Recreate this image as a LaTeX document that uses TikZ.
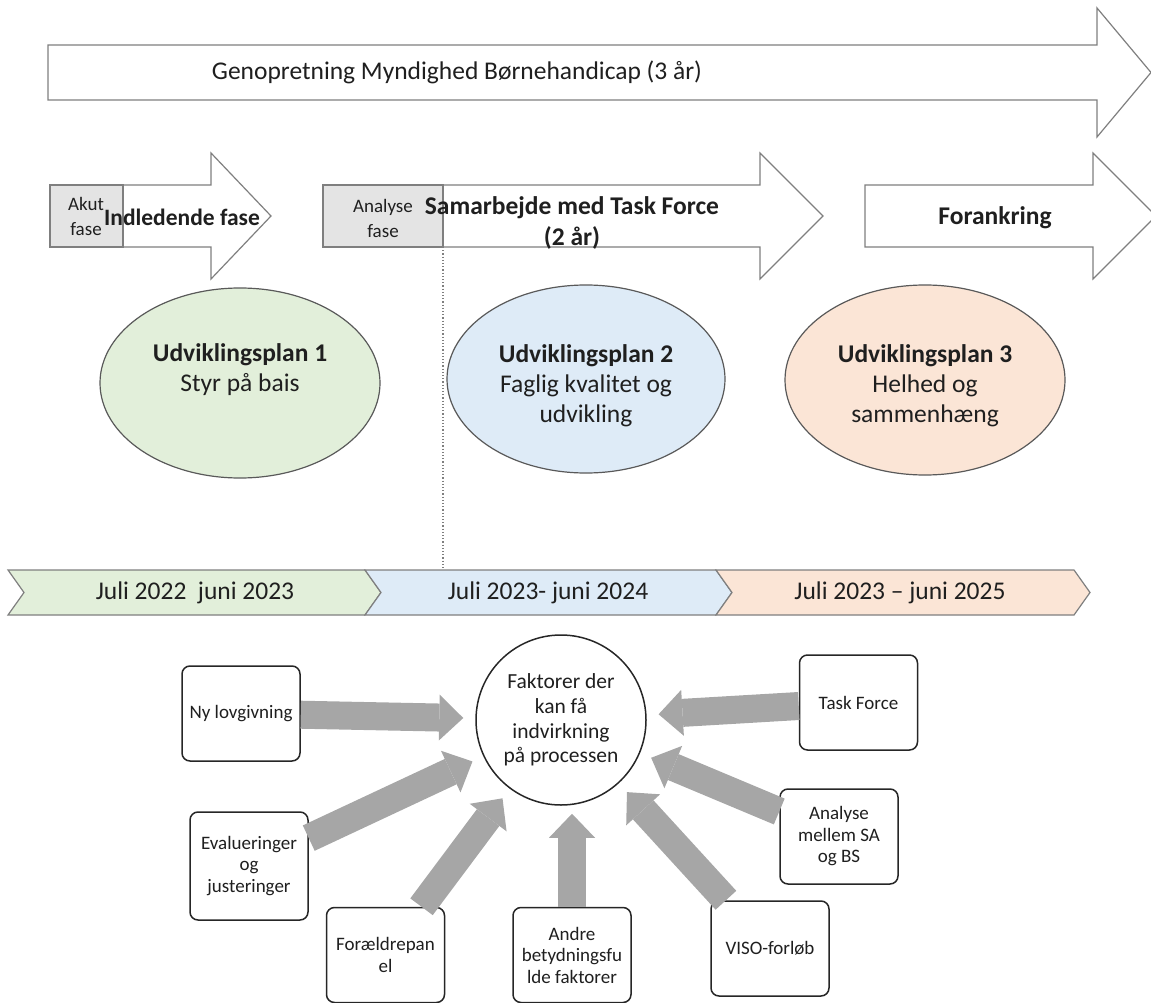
\documentclass[tikz,border=0pt]{standalone}
\usepackage{fontspec}
\setmainfont{Carlito}
\usetikzlibrary{arrows.meta}
\definecolor{arrowgray}{HTML}{A6A6A6}
\definecolor{outl}{HTML}{7F7F7F}
\definecolor{phasegray}{HTML}{E4E4E4}
\definecolor{pgreen}{HTML}{E2EFDA}
\definecolor{pblue}{HTML}{DEEBF7}
\definecolor{porange}{HTML}{FBE5D6}
\definecolor{txt}{HTML}{1F1F1F}
\tikzset{
  bigshape/.style={draw=outl, line width=1.2pt, fill=white},
  phasebox/.style={draw=outl, line width=1.2pt, fill=phasegray},
  lbl/.style={text=txt, font=\fontsize{25.5}{30}\selectfont, align=center, inner sep=0pt},
  boldlbl/.style={text=txt, font=\bfseries\fontsize{25.5}{31}\selectfont, align=center, inner sep=0pt},
  smalllbl/.style={text=txt, font=\fontsize{19}{25}\selectfont, align=center, inner sep=0pt},
  plan/.style={ellipse, draw=black!65, line width=1.2pt},
  planlbl/.style={text=txt, font=\fontsize{25.5}{30}\selectfont, align=center, inner sep=0pt},
  chev/.style={draw=outl, line width=1.2pt},
  factor/.style={draw=black!85, line width=1.5pt, rounded corners=8pt, fill=white, text=txt,
    font=\fontsize{19}{21.5}\selectfont, align=center, minimum width=118pt, minimum height=95pt, inner sep=2pt},
  influence/.style={line width=28pt, draw=arrowgray,
    -{Triangle[width=46pt,length=24pt,line width=0pt]}, shorten >=12pt},
}
\begin{document}
\begin{tikzpicture}[x=1pt,y=-1pt]
\useasboundingbox (0,0) rectangle (1151,1003);
\clip (0,0) rectangle (1151,1003);
\usetikzlibrary{shapes.geometric}

% big arrow
\draw[bigshape] (48,45) -- (1097,45) -- (1097,8) -- (1151,72.5) -- (1097,137) -- (1097,100) -- (48,100) -- cycle;
\node[lbl] (title) at (457,72) {Genopretning Myndighed Børnehandicap (3 år)};

% phase arrows
\draw[bigshape] (50,185) -- (211,185) -- (211,153) -- (271,216) -- (211,279) -- (211,247) -- (50,247) -- cycle;
\draw[phasebox] (50,185) rectangle (123,247);
\draw[bigshape] (323,185) -- (760,185) -- (760,153) -- (823,216) -- (760,279) -- (760,247) -- (323,247) -- cycle;
\draw[phasebox] (323,185) rectangle (443,247);
\draw[bigshape] (865,185) -- (1093,185) -- (1093,153) -- (1156,216) -- (1093,279) -- (1093,247) -- (865,247) -- cycle;

\node[smalllbl] (akut) at (86,216) {Akut\\fase};
\node[boldlbl, font=\bfseries\fontsize{23.5}{28}\selectfont] (indl) at (182,217) {Indledende fase};
\node[smalllbl] (anafase) at (383,218) {Analyse\\fase};
\node[boldlbl] (samarb) at (572,223) {Samarbejde med Task Force\\(2 år)};
\node[boldlbl] (forank) at (995,218) {Forankring};

% plans
\node[plan, fill=pgreen, minimum width=280pt, minimum height=190pt] (p1) at (240,383) {};
\node[plan, fill=pblue, minimum width=278pt, minimum height=188pt] (p2) at (586,379) {};
\node[plan, fill=porange, minimum width=280pt, minimum height=190pt] (p3) at (925,380) {};
\node[planlbl] (p1t) at (240,370) {\textbf{Udviklingsplan 1}\\Styr på bais};
\node[planlbl] (p2t) at (586,386) {\textbf{Udviklingsplan 2}\\Faglig kvalitet og\\udvikling};
\node[planlbl] (p3t) at (925,386) {\textbf{Udviklingsplan 3}\\Helhed og\\sammenhæng};

% timeline
\filldraw[chev, fill=pgreen] (8,570) -- (365,570) -- (381,592.5) -- (365,615) -- (8,615) -- (24,592.5) -- cycle;
\filldraw[chev, fill=pblue] (365,570) -- (716,570) -- (732,592.5) -- (716,615) -- (365,615) -- (381,592.5) -- cycle;
\filldraw[chev, fill=porange] (716,570) -- (1074,570) -- (1090,592.5) -- (1074,615) -- (716,615) -- (732,592.5) -- cycle;
\node[lbl] (t1) at (195,593) {Juli 2022\ \ juni 2023};
\node[lbl] (t2) at (548,593) {Juli 2023- juni 2024};
\node[lbl] (t3) at (900,593) {Juli 2023 – juni 2025};

\coordinate (dtop) at (443,247);
\coordinate (dbot) at (443,570);
\draw[outl, dotted, line width=1.2pt] (dtop) -- (dbot);

% factors
\node[circle, draw=black!85, line width=1.5pt, minimum size=170pt, inner sep=0pt, text=txt,
  font=\fontsize{21.5}{24.7}\selectfont, align=center] (fak) at (561,720) {Faktorer der\\kan få\\indvirkning\\på processen};
\node[factor] (ny) at (241,713.5) {Ny lovgivning};
\node[factor, minimum height=108pt] (eval) at (249,866) {Evalueringer\\og\\justeringer};
\node[factor] (foraeld) at (385.5,955) {Forældrepan\\el};
\node[factor] (andre) at (572,955) {Andre\\betydningsfu\\lde faktorer};
\node[factor] (viso) at (770,948.5) {VISO-forløb};
\node[factor] (analyse) at (839,836.5) {Analyse\\mellem SA\\og BS};
\node[factor] (task) at (858.5,702.5) {Task Force};

\foreach \s in {ny,eval,foraeld,viso,analyse,task}
  \draw[influence] (\s) -- (fak);
\draw[influence, shorten >=8pt] (andre) -- (andre |- fak.south);
\end{tikzpicture}
\end{document}
